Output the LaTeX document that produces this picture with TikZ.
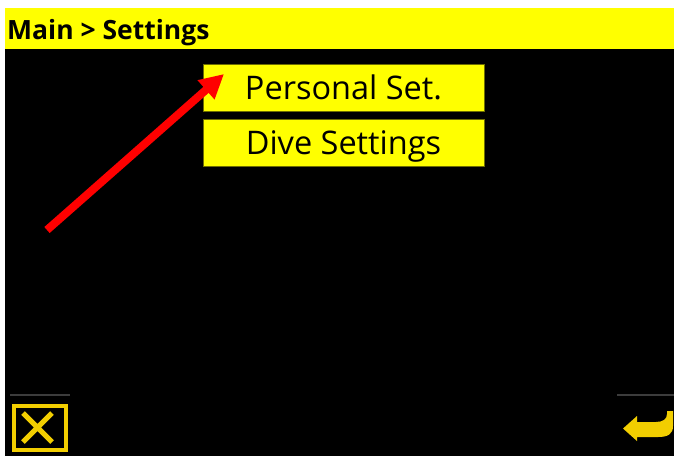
\documentclass[tikz,border=0pt]{standalone}
\usepackage{fontspec}
\setmainfont{Open Sans}
\usetikzlibrary{arrows.meta}
\definecolor{baryellow}{RGB}{255,255,0}
\definecolor{boxedge}{RGB}{110,110,0}
\definecolor{icongold}{RGB}{242,206,0}
\definecolor{sepgray}{RGB}{60,60,60}
\definecolor{arrowred}{RGB}{255,0,0}
\tikzset{
  menubox/.style={fill=baryellow, draw=boxedge, line width=1pt, minimum width=281pt, minimum height=47pt, inner sep=0pt, text height=23pt, text depth=0pt, font=\fontsize{32.5}{32.5}\selectfont},
  titletext/.style={anchor=base west, inner sep=0pt, font=\bfseries\fontsize{26.5}{26.5}\selectfont},
  sepline/.style={draw=sepgray, line width=2.5pt},
  pointer/.style={draw=arrowred, line width=8pt, -{Triangle[length=24pt,width=24pt]}},
}
\begin{document}
\begin{tikzpicture}[x=1pt,y=-1pt]
\useasboundingbox (0,0) rectangle (674,456);
\fill[white] (0,0) rectangle (674,456);
\fill[black] (5,8) rectangle (674,456);
\fill[baryellow] (5,8) rectangle (674,49);
\node[titletext] (title) at (7,39.5) {Main > Settings};
\node[menubox] (personal) at (343.5,88) {Personal Set.};
\node[menubox] (dive) at (343.5,143) {Dive Settings};
\coordinate (tail) at (47,230);
\coordinate (tip) at (224,74);
\draw[pointer] (tail) -- (tip);
% bottom-left cancel icon
\coordinate (sepLa) at (10,395);
\coordinate (sepLb) at (70,395);
\draw[sepline] (sepLa) -- (sepLb);
\draw[icongold, line width=4pt] (13.7,406) rectangle (66.3,449.7);
\draw[icongold, line width=5pt] (23,413) -- (52,442) (52,413) -- (23,442);
% bottom-right return icon
\coordinate (sepRa) at (617,395);
\coordinate (sepRb) at (674,395);
\draw[sepline] (sepRa) -- (sepRb);
\fill[icongold] (673,411) -- (673,426) .. controls (673,434) and (668,437) .. (658,437) -- (637,437) -- (637,441) -- (623,428.5) -- (637,416) -- (637,422) -- (656,422) .. controls (663,422) and (667,419) .. (667,414) -- (667,411) -- cycle;
\end{tikzpicture}
\end{document}
